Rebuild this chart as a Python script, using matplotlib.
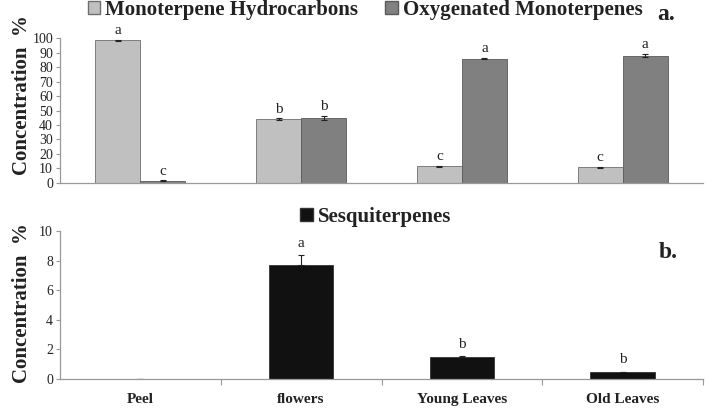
import matplotlib
matplotlib.use("Agg")
import matplotlib.pyplot as plt
from matplotlib.patches import Patch
import numpy as np

categories = ["Peel", "flowers", "Young Leaves", "Old Leaves"]
mono_hc = [98.6, 44.0, 11.5, 10.8]
mono_hc_err = [0.3, 0.5, 0.3, 0.4]
mono_hc_sig = ["a", "b", "c", "c"]
oxy_mono = [1.4, 45.0, 86.0, 88.0]
oxy_mono_err = [0.2, 1.5, 0.3, 1.0]
oxy_mono_sig = ["c", "b", "a", "a"]
sesqui = [0.0, 7.7, 1.5, 0.45]
sesqui_err = [0.0, 0.65, 0.05, 0.03]
sesqui_sig = ["", "a", "b", "b"]

plt.rcParams['font.family'] = ['Liberation Serif', 'DejaVu Serif']

fig = plt.figure(figsize=(7.08, 4.08), dpi=100)
W, H = 708, 408
def ax_rect(x0, y0, x1, y1):
    return [x0 / W, 1 - y1 / H, (x1 - x0) / W, (y1 - y0) / H]

ax1 = fig.add_axes(ax_rect(60, 38.3, 703, 182.7))
ax2 = fig.add_axes(ax_rect(60, 231, 703, 379))

x = np.arange(len(categories))
bw = 0.28
c_mh = "#c0c0c0"
c_om = "#808080"
c_sq = "#111111"
edge = "#6e6e6e"
ekw = dict(ecolor="#222222", elinewidth=0.8, capsize=2, capthick=0.8)

ax1.bar(x - bw / 2, mono_hc, bw, color=c_mh, edgecolor=edge, linewidth=0.6,
        yerr=mono_hc_err, error_kw=ekw)
ax1.bar(x + bw / 2, oxy_mono, bw, color=c_om, edgecolor="#5a5a5a", linewidth=0.6,
        yerr=oxy_mono_err, error_kw=ekw)
for xi, v, e, s in zip(x - bw / 2, mono_hc, mono_hc_err, mono_hc_sig):
    ax1.annotate(s, (xi, v + e), xytext=(0, 2), textcoords="offset points",
                 ha="center", va="bottom", fontsize=11, color="#222222")
for xi, v, e, s in zip(x + bw / 2, oxy_mono, oxy_mono_err, oxy_mono_sig):
    ax1.annotate(s, (xi, v + e), xytext=(0, 2), textcoords="offset points",
                 ha="center", va="bottom", fontsize=11, color="#222222")

ax1.set_xlim(-0.5, len(categories) - 0.5)
ax1.set_ylim(0, 100)
ax1.set_yticks(np.arange(0, 101, 10))
ax1.set_xticks([])

bw2 = 0.4
ax2.bar(x, sesqui, bw2, color=c_sq, edgecolor="#333333", linewidth=0.6,
        yerr=[np.zeros(len(sesqui)), sesqui_err], error_kw=ekw)
for xi, v, e, s in zip(x, sesqui, sesqui_err, sesqui_sig):
    if s:
        ax2.annotate(s, (xi, v + e), xytext=(0, 4), textcoords="offset points",
                     ha="center", va="bottom", fontsize=11, color="#222222")
ax2.set_xlim(-0.5, len(categories) - 0.5)
ax2.set_ylim(0, 10)
ax2.set_yticks(np.arange(0, 11, 2))
ax2.set_xticks(x)
ax2.set_xticklabels(categories, fontsize=11, fontweight="bold", color="#222222")
ax2.set_xticks(np.arange(0.5, len(categories), 1.0), minor=True)
ax2.tick_params(axis="x", which="major", length=0, pad=10)
ax2.tick_params(axis="x", which="minor", length=4, color="#999999", width=0.8)

for ax in (ax1, ax2):
    for sp in ("top", "right"):
        ax.spines[sp].set_visible(False)
    for sp in ("left", "bottom"):
        ax.spines[sp].set_color("#999999")
        ax.spines[sp].set_linewidth(0.9)
    ax.tick_params(axis="y", length=3, color="#999999", width=0.8, labelsize=10, labelcolor="#222222", pad=2)
    ax.set_ylabel("Concentration  %", fontsize=15, fontweight="bold", color="#222222")

ax1.yaxis.set_label_coords(-0.044, 0.61)
ax2.yaxis.set_label_coords(-0.044, 0.51)

leg1 = fig.legend(handles=[Patch(facecolor=c_mh, edgecolor=edge, label="Monoterpene Hydrocarbons"),
                           Patch(facecolor=c_om, edgecolor="#5a5a5a", label="Oxygenated Monoterpenes")],
                  loc="center", bbox_to_anchor=(0.516, 0.976), ncol=2, frameon=False,
                  prop=dict(size=15, weight="bold"), handlelength=0.6, handleheight=0.6,
                  handletextpad=0.25, columnspacing=1.3, borderpad=0, borderaxespad=0)
leg2 = fig.legend(handles=[Patch(facecolor=c_sq, edgecolor="#333333", label="Sesquiterpenes")],
                  loc="center", bbox_to_anchor=(0.531, 0.468), ncol=1, frameon=False,
                  prop=dict(size=15, weight="bold"), handlelength=0.6, handleheight=0.6,
                  handletextpad=0.25, borderpad=0, borderaxespad=0)
for leg in (leg1, leg2):
    for t in leg.get_texts():
        t.set_color("#222222")

fig.text(666 / W, 1 - 15 / H, "a.", fontsize=17, fontweight="bold", ha="center", va="center", color="#222222")
fig.text(668 / W, 1 - 252 / H, "b.", fontsize=17, fontweight="bold", ha="center", va="center", color="#222222")

fig.savefig("out.png", dpi=100)
